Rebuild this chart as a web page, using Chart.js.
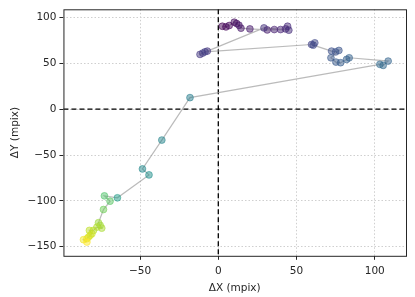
<!DOCTYPE html>
<html>
<head>
<meta charset="utf-8">
<script src="https://cdn.jsdelivr.net/npm/chart.js@4"></script>
<style>
  body { margin: 0; background: #fff; }
  #wrap { width: 415px; height: 297px; }
</style>
</head>
<body>
<div id="wrap"><canvas id="drift"></canvas></div>
<script>
// drift path, in time order (purple -> yellow)
var dx = [2.6, 4.9, 7.0, 10.2, 11.7, 13.2, 14.5, 20.2, 31.3, 35.8, 39.8, 43.0, 44.3, 45.1, 29.2,
    -7.0, -11.7, -10.0, -8.5,
    59.6, 61.7, 60.7,
    72.4, 75.0, 77.1, 72.0, 75.2, 78.2, 82.0, 83.7,
    108.6, 105.4, 103.3,
    -18.1, -36.1, -48.5, -44.3, -64.5, -72.8, -69.2, -73.4,
    -76.6, -75.5, -74.5, -77.6, -79.8, -82.4, -80.8, -81.9, -83.0, -84.0, -86.2, -84.0];
var dy = [90.5, 89.8, 91.3, 94.9, 93.5, 91.6, 88.4, 87.6, 86.5, 86.9, 86.9, 87.6, 90.5, 86.2, 88.7,
    63.4, 59.8, 61.2, 62.6,
    70.6, 72.4, 69.9,
    63.4, 62.5, 64.1, 56.1, 51.4, 50.7, 54.3, 56.1,
    52.5, 47.8, 48.9,
    12.6, -33.7, -65.2, -71.7, -96.7, -94.6, -100.4, -109.5,
    -123.9, -126.8, -129.8, -128.7, -132.3, -132.3, -135.9, -137.7, -139.6, -141.3, -142.4, -145.0];
// relative time of each frame (0..1), drives the colour
var tFrac = [0.00, 0.01, 0.02, 0.03, 0.04, 0.05, 0.06, 0.07, 0.08, 0.09, 0.10, 0.11, 0.12, 0.13, 0.14,
    0.15, 0.16, 0.17, 0.18,
    0.20, 0.21, 0.22,
    0.24, 0.25, 0.26, 0.27, 0.28, 0.29, 0.30, 0.31,
    0.32, 0.33, 0.34,
    0.42, 0.45, 0.47, 0.49, 0.55, 0.72, 0.74, 0.78,
    0.85, 0.86, 0.87, 0.88, 0.89, 0.90, 0.92, 0.93, 0.94, 0.96, 0.98, 1.00];

var xTicks = [-50, 0, 50, 100];
var yTicks = [-150, -100, -50, 0, 50, 100];

var viridis = ['#440154', '#482475', '#414487', '#355f8d', '#2a788e', '#21918c',
    '#22a884', '#44bf70', '#7ad151', '#bddf26', '#fde725'];

function hexRgb(h) {
    return [parseInt(h.substr(1, 2), 16), parseInt(h.substr(3, 2), 16), parseInt(h.substr(5, 2), 16)];
}
function cmap(t, a) {
    var f = t * 10, i = Math.min(9, Math.floor(f)), r = f - i;
    var c0 = hexRgb(viridis[i]), c1 = hexRgb(viridis[i + 1]);
    var c = c0.map(function (v, k) { return Math.round(v + (c1[k] - v) * r); });
    return 'rgba(' + c[0] + ',' + c[1] + ',' + c[2] + ',' + a + ')';
}

var pts = dx.map(function (x, i) { return { x: x, y: dy[i] }; });
var fills = tFrac.map(function (t) { return cmap(t, 0.5); });
var edges = tFrac.map(function (t) { return cmap(t, 0.55); });

function fmt(v) { return v < 0 ? '\u2212' + Math.abs(v) : '' + v; }

var frame = {
    id: 'frame',
    beforeDatasetsDraw: function (chart) {
        var c = chart.ctx, a = chart.chartArea;
        var x0 = chart.scales.x.getPixelForValue(0), y0 = chart.scales.y.getPixelForValue(0);
        c.save();
        c.strokeStyle = '#000';
        c.lineWidth = 1.3;
        c.setLineDash([5, 3]);
        c.beginPath();
        c.moveTo(x0, a.top); c.lineTo(x0, a.bottom);
        c.moveTo(a.left, y0); c.lineTo(a.right, y0);
        c.stroke();
        c.restore();
    },
    afterDraw: function (chart) {
        var c = chart.ctx, a = chart.chartArea;
        c.save();
        c.strokeStyle = '#262626';
        c.lineWidth = 1;
        c.strokeRect(a.left + 0.5, a.top + 0.5, a.right - a.left, a.bottom - a.top);
        c.restore();
    }
};

var font = { family: 'DejaVu Sans', size: 10.5 };

new Chart(document.getElementById('drift').getContext('2d'), {
    type: 'scatter',
    data: {
        datasets: [{
            data: pts,
            showLine: true,
            borderColor: 'rgba(150,150,150,0.65)',
            borderWidth: 1.2,
            pointBackgroundColor: fills,
            pointBorderColor: edges,
            pointBorderWidth: 1,
            pointRadius: 3.4
        }]
    },
    options: {
        responsive: true,
        maintainAspectRatio: false,
        animation: false,
        layout: { padding: { left: 9, right: 9, top: 6, bottom: 0 } },
        plugins: { legend: { display: false }, tooltip: { enabled: false } },
        scales: {
            x: {
                type: 'linear', min: -99, max: 120,
                afterBuildTicks: function (ax) { ax.ticks = xTicks.map(function (v) { return { value: v }; }); },
                ticks: { callback: fmt, color: '#262626', font: font, padding: 5, maxRotation: 0 },
                grid: { color: '#cfcfcf', tickLength: 4, tickColor: '#262626' },
                border: { display: false, dash: [1.5, 2] },
                title: { display: true, text: '\u0394X (mpix)', color: '#262626', font: font, padding: { top: 0, bottom: 2 } }
            },
            y: {
                type: 'linear', min: -160, max: 109,
                afterBuildTicks: function (ax) { ax.ticks = yTicks.map(function (v) { return { value: v }; }); },
                ticks: { callback: fmt, color: '#262626', font: font, padding: 3 },
                grid: { color: '#cfcfcf', tickLength: 4, tickColor: '#262626' },
                border: { display: false, dash: [1.5, 2] },
                title: { display: true, text: '\u0394Y (mpix)', color: '#262626', font: font, padding: { top: 0, bottom: 3 } }
            }
        }
    },
    plugins: [frame]
});
</script>
</body>
</html>
